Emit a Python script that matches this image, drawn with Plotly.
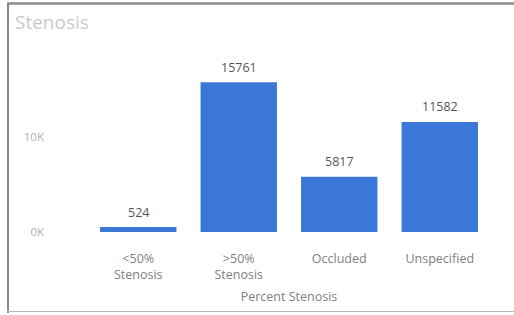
import plotly.graph_objects as go

categories = ["<50%<br>Stenosis", ">50%<br>Stenosis", "Occluded", "Unspecified"]
values = [524, 15761, 5817, 11582]
tick_vals = [0, 10000]
tick_text = ["0K", "10K"]

W, H = 514, 315
L, R, T, B = 88, 24, 42, 83
pw, ph = W - L - R, H - T - B

def px(x):
    return (x - L) / pw

def py(y):
    return (H - B - y) / ph

FONT = "Open Sans"

fig = go.Figure(go.Bar(
    x=categories, y=values,
    marker=dict(color="#3A77D6", line=dict(width=0)),
    cliponaxis=False,
))

for c, v in zip(categories, values):
    fig.add_annotation(x=c, y=v, xref="x", yref="y", text=str(v), showarrow=False,
                       yanchor="middle", yshift=15,
                       font=dict(family=FONT, size=12.5, color="#555555"))

fig.update_layout(
    width=W, height=H,
    margin=dict(l=L, r=R, t=T, b=B),
    paper_bgcolor="white", plot_bgcolor="white",
    bargap=0.24,
    showlegend=False,
    title=dict(text="Stenosis", x=15 / W, xanchor="left",
               y=1 - 22 / H, yanchor="middle",
               font=dict(family=FONT, size=19, color="#cacaca")),
    xaxis=dict(showgrid=False, showline=False, zeroline=False, ticks="",
               ticklabelstandoff=17,
               tickfont=dict(family=FONT, size=12.5, color="#808080"),
               title=dict(text="Percent Stenosis", standoff=10,
                          font=dict(family=FONT, size=12.5, color="#808080"))),
    yaxis=dict(range=[0, 20000], showgrid=False, showline=False, zeroline=False,
               tickvals=tick_vals, ticktext=tick_text, ticks="",
               ticklabelstandoff=43,
               tickfont=dict(family=FONT, size=11.5, color="#b0b0b0")),
    shapes=[
        dict(type="line", xref="paper", yref="paper", x0=px(7), x1=px(520), y0=py(3.5), y1=py(3.5),
             line=dict(color="#8a8a8a", width=2.5)),
        dict(type="line", xref="paper", yref="paper", x0=px(8), x1=px(8), y0=py(3), y1=py(313),
             line=dict(color="#8a8a8a", width=2)),
        dict(type="line", xref="paper", yref="paper", x0=px(7), x1=px(520), y0=py(311.5), y1=py(311.5),
             line=dict(color="#b8b8b8", width=1)),
    ],
)

fig.write_html("out.html", config={"displayModeBar": False},
               post_script="document.body.style.margin='0';document.body.style.overflow='hidden';")
